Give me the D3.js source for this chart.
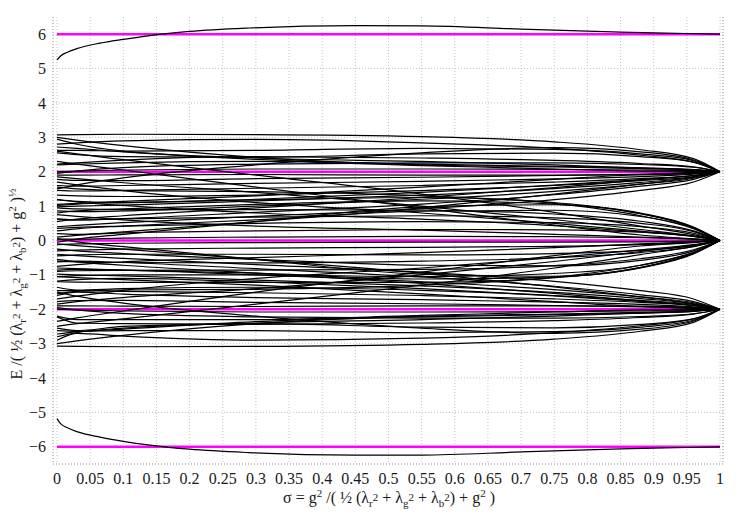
<!DOCTYPE html>
<html>
<head>
<meta charset="utf-8">
<script src="https://cdnjs.cloudflare.com/ajax/libs/d3/7.8.5/d3.min.js"></script>
<style>
  body { margin: 0; background: #fff; }
  svg text { font-family: "Liberation Serif", "Times New Roman", "DejaVu Serif", serif; fill: #1a1a1a; }
</style>
</head>
<body>
<svg width="750" height="525" font-family="Liberation Serif, Times New Roman, serif"></svg>
<script>
var sigmaPts = [0, 0.03, 0.1, 0.3, 0.55, 0.75, 0.88, 0.96, 1];
var sigmaOuter = [0, 0.005, 0.015, 0.03, 0.065, 0.1, 0.14, 0.2, 0.29, 0.45, 0.55, 0.7, 0.85, 0.95, 1];

// levels ending at E = 2
var levelsToTwo = [
  [3.07, 3.08, 3.09, 3.08, 3.02, 2.87, 2.64, 2.38, 2.0],
  [2.80, 2.84, 2.90, 2.94, 2.84, 2.68, 2.48, 2.28, 2.0],
  [2.95, 2.80, 2.60, 2.40, 2.30, 2.20, 2.11, 2.06, 2.0],
  [2.62, 2.62, 2.60, 2.62, 2.68, 2.65, 2.52, 2.32, 2.0],
  [2.55, 2.50, 2.44, 2.42, 2.52, 2.54, 2.44, 2.28, 2.0],
  [2.22, 2.26, 2.34, 2.44, 2.40, 2.33, 2.24, 2.14, 2.0],
  [2.20, 2.22, 2.26, 2.30, 2.18, 2.08, 2.02, 2.01, 2.0],
  [1.95, 2.02, 2.12, 2.22, 2.26, 2.26, 2.21, 2.13, 2.0],
  [2.00, 2.02, 2.05, 2.08, 2.08, 2.07, 2.05, 2.03, 2.0],
  [1.90, 1.90, 1.91, 1.92, 1.90, 1.90, 1.91, 1.95, 2.0],
  [1.78, 1.75, 1.74, 1.80, 1.84, 1.89, 1.93, 1.96, 2.0],
  [1.60, 1.58, 1.60, 1.66, 1.72, 1.79, 1.86, 1.93, 2.0],
  [1.46, 1.44, 1.46, 1.52, 1.60, 1.70, 1.80, 1.89, 2.0],
  [1.32, 1.30, 1.28, 1.32, 1.45, 1.60, 1.74, 1.86, 2.0],
  [0.98, 1.00, 1.03, 1.15, 1.32, 1.51, 1.69, 1.84, 2.0],
  [0.86, 0.84, 0.86, 1.00, 1.20, 1.43, 1.64, 1.81, 2.0],
  [0.62, 0.60, 0.64, 0.82, 1.06, 1.33, 1.58, 1.78, 2.0],
  [0.40, 0.44, 0.52, 0.70, 0.92, 1.19, 1.46, 1.70, 2.0],
  [1.18, 1.14, 1.10, 1.20, 1.40, 1.61, 1.77, 1.89, 2.0],
  [2.72, 2.68, 2.58, 2.36, 2.22, 2.16, 2.11, 2.06, 2.0],
  [0.10, 0.15, 0.25, 0.55, 0.95, 1.35, 1.64, 1.84, 2.0],
  [0.55, 0.62, 0.72, 0.95, 1.25, 1.54, 1.76, 1.89, 2.0],
  [1.05, 1.08, 1.14, 1.30, 1.55, 1.78, 1.92, 1.98, 2.0],
  [3.00, 2.92, 2.76, 2.42, 2.20, 2.14, 2.09, 2.05, 2.0],
  [1.50, 1.62, 1.82, 2.20, 2.55, 2.70, 2.58, 2.34, 2.0]
];

// levels ending at E = 0
var levelsToZero = [
  [1.55, 1.50, 1.45, 1.42, 1.30, 1.08, 0.72, 0.34, 0],
  [1.70, 1.62, 1.45, 1.10, 0.80, 0.50, 0.27, 0.12, 0],
  [0.80, 0.86, 0.92, 1.05, 1.15, 1.06, 0.78, 0.38, 0],
  [0.95, 0.92, 0.90, 0.90, 0.88, 0.77, 0.56, 0.28, 0],
  [1.20, 1.12, 1.02, 0.80, 0.62, 0.43, 0.25, 0.12, 0],
  [0.62, 0.60, 0.63, 0.68, 0.72, 0.66, 0.50, 0.26, 0],
  [0.35, 0.38, 0.42, 0.50, 0.55, 0.52, 0.40, 0.21, 0],
  [0.75, 0.70, 0.60, 0.42, 0.30, 0.18, 0.10, 0.04, 0],
  [0.20, 0.18, 0.22, 0.28, 0.32, 0.31, 0.24, 0.13, 0],
  [0.05, 0.04, 0.07, 0.10, 0.12, 0.11, 0.08, 0.04, 0],
  [-0.12, -0.10, -0.08, -0.06, -0.05, -0.05, -0.04, -0.02, 0],
  [-0.30, -0.28, -0.25, -0.22, -0.20, -0.17, -0.12, -0.06, 0],
  [-0.45, -0.42, -0.40, -0.40, -0.42, -0.38, -0.29, -0.15, 0],
  [-0.60, -0.62, -0.64, -0.65, -0.60, -0.50, -0.35, -0.18, 0],
  [-0.75, -0.70, -0.62, -0.50, -0.35, -0.21, -0.10, -0.04, 0],
  [-0.90, -0.88, -0.87, -0.86, -0.84, -0.73, -0.53, -0.27, 0],
  [-1.05, -1.02, -1.00, -1.00, -1.05, -0.96, -0.72, -0.35, 0],
  [-1.20, -1.21, -1.22, -1.22, -1.22, -1.08, -0.79, -0.38, 0],
  [-1.55, -1.48, -1.44, -1.42, -1.30, -1.07, -0.72, -0.34, 0],
  [-1.70, -1.62, -1.45, -1.10, -0.80, -0.50, -0.27, -0.12, 0],
  [-0.25, -0.30, -0.38, -0.55, -0.72, -0.74, -0.58, -0.30, 0],
  [0.28, 0.34, 0.42, 0.60, 0.85, 0.88, 0.70, 0.36, 0],
  [-0.80, -0.82, -0.86, -0.95, -1.12, -1.06, -0.80, -0.39, 0],
  [1.02, 1.06, 1.10, 1.18, 1.25, 1.10, 0.80, 0.39, 0],
  [2.60, 2.52, 2.35, 1.90, 1.35, 0.82, 0.42, 0.17, 0],
  [2.30, 2.22, 2.05, 1.55, 0.95, 0.45, 0.16, 0.05, 0],
  [-2.50, -2.42, -2.28, -1.85, -1.30, -0.80, -0.41, -0.17, 0],
  [-2.35, -2.25, -2.05, -1.50, -0.92, -0.44, -0.16, -0.05, 0],
  [1.85, 1.80, 1.68, 1.40, 1.00, 0.61, 0.32, 0.13, 0],
  [-1.85, -1.78, -1.66, -1.40, -1.00, -0.61, -0.32, -0.13, 0],
  [-0.05, 0.04, 0.18, 0.55, 0.98, 1.04, 0.78, 0.37, 0],
  [0.05, -0.04, -0.18, -0.55, -0.98, -1.04, -0.78, -0.37, 0]
];

// levels ending at E = -2
var levelsToMinusTwo = [
  [-3.07, -3.08, -3.09, -3.08, -3.02, -2.87, -2.64, -2.38, -2.0],
  [-2.80, -2.70, -2.78, -2.90, -2.84, -2.68, -2.48, -2.28, -2.0],
  [-2.90, -2.68, -2.55, -2.40, -2.30, -2.20, -2.11, -2.06, -2.0],
  [-2.62, -2.64, -2.62, -2.62, -2.68, -2.65, -2.52, -2.32, -2.0],
  [-2.55, -2.62, -2.50, -2.42, -2.52, -2.54, -2.44, -2.28, -2.0],
  [-2.22, -2.40, -2.42, -2.44, -2.40, -2.33, -2.24, -2.14, -2.0],
  [-2.20, -2.30, -2.30, -2.30, -2.18, -2.08, -2.02, -2.01, -2.0],
  [-1.95, -2.02, -2.12, -2.22, -2.26, -2.26, -2.21, -2.13, -2.0],
  [-2.00, -2.02, -2.05, -2.08, -2.08, -2.07, -2.05, -2.03, -2.0],
  [-1.90, -1.90, -1.91, -1.92, -1.90, -1.90, -1.91, -1.95, -2.0],
  [-1.78, -1.75, -1.74, -1.80, -1.84, -1.89, -1.93, -1.96, -2.0],
  [-1.60, -1.50, -1.56, -1.66, -1.72, -1.79, -1.86, -1.93, -2.0],
  [-1.46, -1.46, -1.48, -1.52, -1.60, -1.70, -1.80, -1.89, -2.0],
  [-1.36, -1.44, -1.40, -1.36, -1.45, -1.60, -1.74, -1.86, -2.0],
  [-0.98, -1.00, -1.03, -1.15, -1.32, -1.51, -1.69, -1.84, -2.0],
  [-0.86, -0.84, -0.86, -1.00, -1.20, -1.43, -1.64, -1.81, -2.0],
  [-0.62, -0.60, -0.64, -0.82, -1.06, -1.33, -1.58, -1.78, -2.0],
  [-0.40, -0.44, -0.52, -0.70, -0.92, -1.19, -1.46, -1.70, -2.0],
  [-1.18, -1.14, -1.10, -1.20, -1.40, -1.61, -1.77, -1.89, -2.0],
  [-2.72, -2.66, -2.58, -2.36, -2.22, -2.16, -2.11, -2.06, -2.0],
  [-0.10, -0.15, -0.25, -0.55, -0.95, -1.35, -1.64, -1.84, -2.0],
  [-0.55, -0.62, -0.72, -0.95, -1.25, -1.54, -1.76, -1.89, -2.0],
  [-1.05, -1.08, -1.14, -1.30, -1.55, -1.78, -1.92, -1.98, -2.0],
  [-3.00, -2.92, -2.76, -2.42, -2.20, -2.14, -2.09, -2.05, -2.0],
  [-1.50, -1.62, -1.82, -2.20, -2.55, -2.70, -2.58, -2.34, -2.0]
];

// outermost levels ending at E = 6 and E = -6
var upperLevel = [5.25, 5.36, 5.47, 5.58, 5.74, 5.85, 5.96, 6.08, 6.18, 6.25, 6.24, 6.15, 6.06, 6.02, 6.0];
var lowerLevel = [-5.18, -5.32, -5.44, -5.56, -5.72, -5.84, -5.95, -6.07, -6.17, -6.24, -6.24, -6.15, -6.06, -6.02, -6.0];

// limiting values (magenta)
var limits = [6, 2, 0, -2, -6];

var xTicks = [0, 0.05, 0.1, 0.15, 0.2, 0.25, 0.3, 0.35, 0.4, 0.45, 0.5, 0.55, 0.6, 0.65, 0.7, 0.75, 0.8, 0.85, 0.9, 0.95, 1];
var yTicks = [-6, -5, -4, -3, -2, -1, 0, 1, 2, 3, 4, 5, 6];

var svg = d3.select("svg");

var x = d3.scaleLinear().domain([0, 1]).range([57, 720]);
var y = d3.scaleLinear().domain([-6.5, 6.5]).range([464, 17]);

// grid
var grid = svg.append("g").attr("class", "grid");
grid.selectAll(".vg").data(xTicks).enter().append("line")
    .attr("x1", d => x(d)).attr("x2", d => x(d))
    .attr("y1", y(6.5)).attr("y2", y(-6.5))
    .attr("stroke", "#c4c4c4").attr("stroke-width", 1)
    .attr("stroke-dasharray", "1,2");
grid.selectAll(".hg").data(yTicks).enter().append("line")
    .attr("x1", 53).attr("x2", 723)
    .attr("y1", d => y(d)).attr("y2", d => y(d))
    .attr("stroke", "#c4c4c4").attr("stroke-width", 1)
    .attr("stroke-dasharray", "1,2");

// frame (dotted)
var frame = svg.append("g");
[[53, y(6.5), 53, y(-6.5)], [53, y(-6.5), 723, y(-6.5)], [723, y(6.5), 723, y(-6.5)]].forEach(function(s) {
  frame.append("line")
      .attr("x1", s[0]).attr("y1", s[1]).attr("x2", s[2]).attr("y2", s[3])
      .attr("stroke", "#8a8a8a").attr("stroke-width", 1)
      .attr("stroke-dasharray", "1,2");
});

// magenta limits
svg.append("g").selectAll("line").data(limits).enter().append("line")
    .attr("x1", x(0)).attr("x2", x(1))
    .attr("y1", d => y(d)).attr("y2", d => y(d))
    .attr("stroke", "#ff00ff").attr("stroke-width", 2.4);

// level curves
var line = d3.line()
    .x(d => x(d[0]))
    .y(d => y(d[1]))
    .curve(d3.curveMonotoneX);

var inner = levelsToTwo.concat(levelsToZero, levelsToMinusTwo);
var curves = svg.append("g").attr("fill", "none").attr("stroke", "#000").attr("stroke-width", 1.2);
curves.selectAll(".lv").data(inner).enter().append("path")
    .attr("d", vals => line(vals.map((v, i) => [sigmaPts[i], v])));
curves.selectAll(".ov").data([upperLevel, lowerLevel]).enter().append("path")
    .attr("d", vals => line(vals.map((v, i) => [sigmaOuter[i], v])));

// tick labels
svg.append("g").selectAll("text").data(yTicks).enter().append("text")
    .attr("x", 46).attr("y", d => y(d)).attr("dy", "0.35em")
    .attr("text-anchor", "end").attr("font-size", 16)
    .text(d => d < 0 ? "\u2212" + Math.abs(d) : d);

svg.append("g").selectAll("text").data(xTicks).enter().append("text")
    .attr("x", d => x(d)).attr("y", 484)
    .attr("text-anchor", "middle").attr("font-size", 16)
    .text(d => d);

// axis titles
var xt = svg.append("text").attr("x", 389).attr("y", 503)
    .attr("text-anchor", "middle").attr("font-size", 16);
function addTitle(t, parts) {
  parts.forEach(function(p) {
    var ts = t.append("tspan").text(p[0]);
    if (p[1] === "sup") ts.attr("dy", -6).attr("font-size", 11);
    if (p[1] === "sub") ts.attr("dy", 4).attr("font-size", 11);
    if (p[1] === "base") ts.attr("dy", p[2]);
  });
}
addTitle(xt, [
  ["\u03c3 = g"], ["2", "sup"], [" /( \u00bd (\u03bb", "base", 6], ["r", "sub"], ["2", "sup"],
  [" + \u03bb", "base", 2], ["g", "sub"], ["2", "sup"],
  [" + \u03bb", "base", 2], ["b", "sub"], ["2", "sup"],
  [") + g", "base", 2], ["2", "sup"], [" )", "base", 6]
]);

var yt = svg.append("text")
    .attr("transform", "translate(22,284) rotate(-90)")
    .attr("text-anchor", "middle").attr("font-size", 16);
addTitle(yt, [
  ["E /( \u00bd (\u03bb"], ["r", "sub"], ["2", "sup"],
  [" + \u03bb", "base", 2], ["g", "sub"], ["2", "sup"],
  [" + \u03bb", "base", 2], ["b", "sub"], ["2", "sup"],
  [") + g", "base", 2], ["2", "sup"], [" )", "base", 6], ["\u00bd", "sup"]
]);
</script>
</body>
</html>
